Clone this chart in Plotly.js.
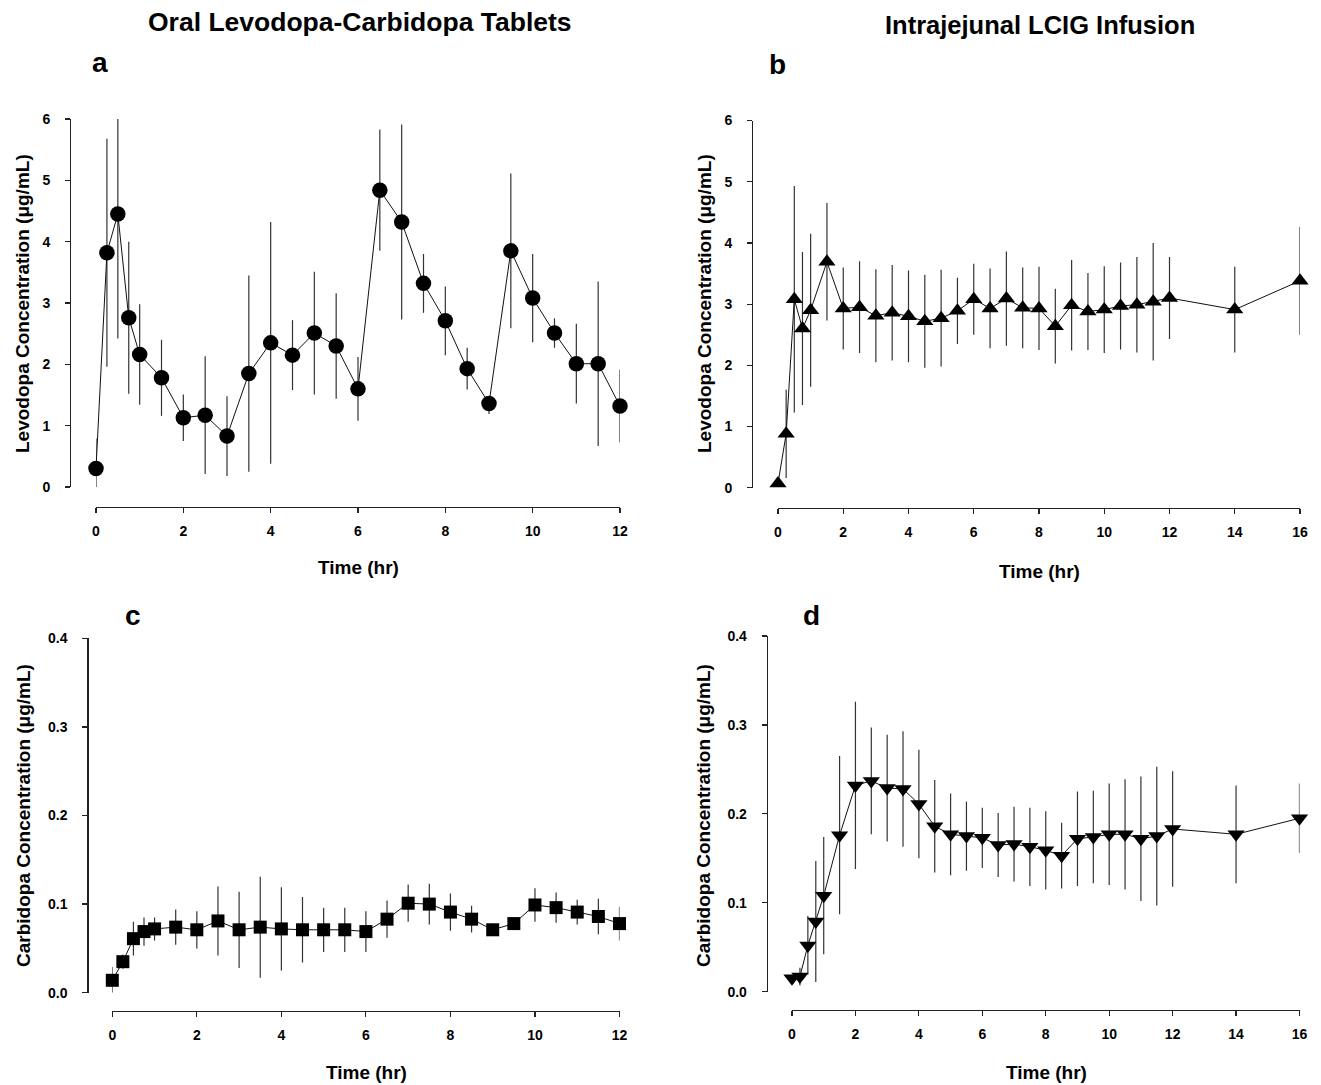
<!DOCTYPE html>
<html>
<head>
<meta charset="utf-8">
<script src="https://cdn.plot.ly/plotly-3.0.1.min.js"></script>
<style>
  html, body { margin: 0; padding: 0; background: #fff; }
  #chart { width: 1321px; height: 1085px; }
</style>
</head>
<body>
<div id="chart"></div>
<script>
// ---------------- DATA ----------------
// Panel a: oral tablets, levodopa (ug/mL)
const timeA = [0, 0.25, 0.5, 0.75, 1, 1.5, 2, 2.5, 3, 3.5, 4, 4.5, 5, 5.5, 6, 6.5, 7, 7.5, 8, 8.5, 9, 9.5, 10, 10.5, 11, 11.5, 12];
const levoA = [0.30, 3.82, 4.45, 2.76, 2.16, 1.78, 1.13, 1.17, 0.83, 1.85, 2.35, 2.15, 2.51, 2.30, 1.60, 4.84, 4.32, 3.32, 2.71, 1.93, 1.36, 3.85, 3.08, 2.51, 2.01, 2.01, 1.32];
const levoAUp = [0.49, 1.86, 1.55, 1.24, 0.82, 0.62, 0.38, 0.96, 0.65, 1.60, 1.97, 0.57, 1.00, 0.86, 0.52, 0.99, 1.59, 0.48, 0.56, 0.34, 0.10, 1.26, 0.72, 0.24, 0.65, 1.34, 0.59];
const levoADn = [0.30, 1.86, 2.03, 1.24, 0.82, 0.62, 0.38, 0.96, 0.65, 1.60, 1.97, 0.57, 1.00, 0.86, 0.52, 0.99, 1.59, 0.48, 0.56, 0.34, 0.17, 1.26, 0.72, 0.24, 0.65, 1.34, 0.59];

// Panel b: LCIG infusion, levodopa (ug/mL)
const timeB = [0, 0.25, 0.5, 0.75, 1, 1.5, 2, 2.5, 3, 3.5, 4, 4.5, 5, 5.5, 6, 6.5, 7, 7.5, 8, 8.5, 9, 9.5, 10, 10.5, 11, 11.5, 12, 14, 16];
const levoB = [0.07, 0.88, 3.08, 2.60, 2.90, 3.69, 2.93, 2.95, 2.81, 2.86, 2.80, 2.72, 2.77, 2.89, 3.08, 2.93, 3.09, 2.94, 2.93, 2.64, 2.98, 2.88, 2.91, 2.97, 2.99, 3.04, 3.10, 2.91, 3.38];
const levoBUp = [0, 0.72, 1.85, 1.25, 1.25, 0.96, 0.67, 0.75, 0.76, 0.78, 0.75, 0.76, 0.79, 0.54, 0.58, 0.65, 0.77, 0.66, 0.68, 0.61, 0.74, 0.63, 0.71, 0.71, 0.78, 0.96, 0.67, 0.70, 0.88];
const levoBDn = [0, 0.72, 1.85, 1.25, 1.25, 0.96, 0.67, 0.75, 0.76, 0.78, 0.75, 0.76, 0.79, 0.54, 0.58, 0.65, 0.77, 0.66, 0.68, 0.61, 0.74, 0.63, 0.71, 0.71, 0.78, 0.96, 0.67, 0.70, 0.88];

// Panel c: oral tablets, carbidopa (ug/mL)
const timeC = [0, 0.25, 0.5, 0.75, 1, 1.5, 2, 2.5, 3, 3.5, 4, 4.5, 5, 5.5, 6, 6.5, 7, 7.5, 8, 8.5, 9, 9.5, 10, 10.5, 11, 11.5, 12];
const carbiC = [0.014, 0.035, 0.061, 0.069, 0.072, 0.074, 0.071, 0.081, 0.071, 0.074, 0.072, 0.071, 0.071, 0.071, 0.069, 0.083, 0.101, 0.100, 0.091, 0.083, 0.071, 0.078, 0.099, 0.096, 0.091, 0.086, 0.078];
const carbiCUp = [0.015, 0.008, 0.019, 0.016, 0.013, 0.020, 0.021, 0.039, 0.043, 0.057, 0.047, 0.037, 0.025, 0.025, 0.023, 0.021, 0.021, 0.023, 0.021, 0.015, 0.007, 0.004, 0.019, 0.017, 0.014, 0.020, 0.019];
const carbiCDn = [0.014, 0.008, 0.019, 0.016, 0.013, 0.020, 0.021, 0.039, 0.043, 0.057, 0.047, 0.037, 0.025, 0.025, 0.023, 0.021, 0.021, 0.023, 0.021, 0.015, 0.007, 0.004, 0.019, 0.017, 0.014, 0.020, 0.019];

// Panel d: LCIG infusion, carbidopa (ug/mL)
const timeD = [0, 0.25, 0.5, 0.75, 1, 1.5, 2, 2.5, 3, 3.5, 4, 4.5, 5, 5.5, 6, 6.5, 7, 7.5, 8, 8.5, 9, 9.5, 10, 10.5, 11, 11.5, 12, 14, 16];
const carbiD = [0.015, 0.017, 0.052, 0.079, 0.108, 0.176, 0.232, 0.237, 0.229, 0.228, 0.211, 0.186, 0.177, 0.175, 0.173, 0.165, 0.166, 0.163, 0.159, 0.153, 0.172, 0.174, 0.177, 0.177, 0.172, 0.175, 0.183, 0.177, 0.195];
const carbiDUp = [0, 0.010, 0.033, 0.068, 0.066, 0.089, 0.094, 0.060, 0.060, 0.065, 0.061, 0.052, 0.046, 0.039, 0.034, 0.036, 0.042, 0.044, 0.044, 0.037, 0.053, 0.052, 0.057, 0.062, 0.070, 0.078, 0.065, 0.055, 0.039];
const carbiDDn = [0, 0.010, 0.033, 0.068, 0.066, 0.089, 0.094, 0.060, 0.060, 0.065, 0.061, 0.052, 0.046, 0.039, 0.034, 0.036, 0.042, 0.044, 0.044, 0.037, 0.053, 0.052, 0.057, 0.062, 0.070, 0.078, 0.065, 0.055, 0.039];

// Text
const columnTitles = ['Oral Levodopa-Carbidopa Tablets', 'Intrajejunal LCIG Infusion'];
const panelLetters = ['a', 'b', 'c', 'd'];
const xTitle = 'Time (hr)';
const yTitleLevo = 'Levodopa Concentration (\u03bcg/mL)';
const yTitleCarbi = 'Carbidopa Concentration (\u03bcg/mL)';

// ---------------- STYLE / LAYOUT ----------------
const W = 1321, H = 1085;
const px = v => v / W;            // pixel x -> paper
const py = v => 1 - v / H;        // pixel y -> paper
const FONT = 'Liberation Sans, Arial, Helvetica, sans-serif';
const INK = '#111';
const AXC = '#222';

function trace(x, y, up, dn, symbol, size, xa, ya) {
  return {
    type: 'scatter', mode: 'lines+markers',
    x: x, y: y, xaxis: xa, yaxis: ya,
    cliponaxis: false,
    line: { color: INK, width: 1 },
    marker: { symbol: symbol, size: size, color: '#000', line: { width: 0 } },
    error_y: { type: 'data', symmetric: false, array: up, arrayminus: dn,
               color: '#333', thickness: 1.2, width: 0 },
    showlegend: false, hoverinfo: 'x+y'
  };
}

const data = [
  trace(timeA, levoA, levoAUp, levoADn, 'circle', 15.5, 'x', 'y'),
  trace(timeB, levoB, levoBUp, levoBDn, 'triangle-up', 15, 'x2', 'y2'),
  trace(timeC, carbiC, carbiCUp, carbiCDn, 'square', 13, 'x3', 'y3'),
  trace(timeD, carbiD, carbiDUp, carbiDDn, 'triangle-down', 15, 'x4', 'y4')
];

const tickFont = { family: FONT, size: 14, weight: 'bold', color: '#000' };

function xaxis(x0, x1, linePy, max) {
  return {
    domain: [px(x0), px(x1)], range: [0, max], anchor: 'free', position: py(linePy),
    showgrid: false, zeroline: false, showline: true, linecolor: AXC, linewidth: 1.2,
    ticks: 'outside', ticklen: 5, tickwidth: 1.2, tickcolor: AXC,
    dtick: 2, tick0: 0, tickfont: tickFont, ticklabelstandoff: 6
  };
}
function yaxis(yTop, yBot, linePx, max, dt, fmt) {
  return {
    domain: [py(yBot), py(yTop)], range: [0, max], anchor: 'free', position: px(linePx),
    showgrid: false, zeroline: false, showline: true, linecolor: AXC, linewidth: 1.2,
    ticks: 'outside', ticklen: 5, tickwidth: 1.2, tickcolor: AXC,
    dtick: dt, tick0: 0, tickformat: fmt, tickfont: tickFont, ticklabelstandoff: 12
  };
}

function ann(text, x, y, size, angle) {
  return {
    text: text, xref: 'paper', yref: 'paper', x: px(x), y: py(y),
    xanchor: 'center', yanchor: 'middle', showarrow: false, textangle: angle || 0,
    font: { family: FONT, size: size, weight: 'bold', color: '#000' }
  };
}

const layout = {
  width: W, height: H,
  margin: { l: 0, r: 0, t: 0, b: 0 },
  paper_bgcolor: '#fff', plot_bgcolor: 'rgba(0,0,0,0)',
  showlegend: false,
  xaxis:  xaxis(96, 620, 507, 12),
  yaxis:  yaxis(119, 487, 70, 6, 1, 'd'),
  xaxis2: xaxis(778, 1300, 508, 16),
  yaxis2: yaxis(120.5, 487.7, 752, 6, 1, 'd'),
  xaxis3: xaxis(112.3, 619.5, 1010.5, 12),
  yaxis3: yaxis(638.3, 992.7, 87.3, 0.4, 0.1, '.1f'),
  xaxis4: xaxis(792, 1299.5, 1010, 16),
  yaxis4: yaxis(636, 991.7, 766.7, 0.4, 0.1, '.1f'),
  annotations: [
    ann(columnTitles[0], 360, 22, 26.5),
    ann(columnTitles[1], 1040, 25, 25.5),
    ann(panelLetters[0], 100, 62, 28),
    ann(panelLetters[1], 777, 64, 28),
    ann(panelLetters[2], 133, 615, 28),
    ann(panelLetters[3], 812, 615, 28),
    ann(yTitleLevo, 22, 304, 19, -90),
    ann(yTitleLevo, 704, 304, 19, -90),
    ann(yTitleCarbi, 23, 816, 19, -90),
    ann(yTitleCarbi, 703, 816, 19, -90),
    ann(xTitle, 358, 567, 19),
    ann(xTitle, 1039, 571, 19),
    ann(xTitle, 366, 1072, 19),
    ann(xTitle, 1046, 1072, 19)
  ]
};

Plotly.newPlot('chart', data, layout, { staticPlot: true, displayModeBar: false });
</script>
</body>
</html>
